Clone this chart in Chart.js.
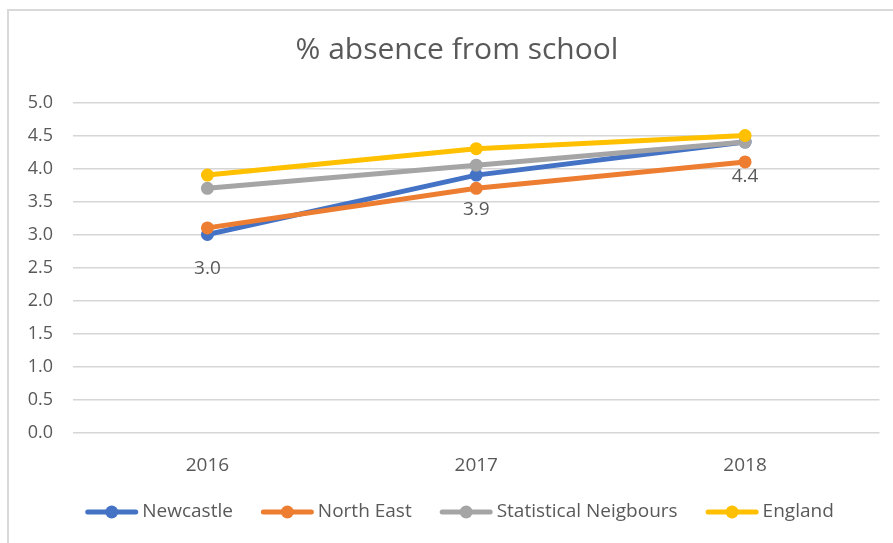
<!DOCTYPE html>
<html>
<head>
<meta charset="utf-8">
<script src="https://cdn.jsdelivr.net/npm/chart.js@4"></script>
<style>
  html, body { margin: 0; padding: 0; background: #fff; overflow: hidden; }
  #wrap { position: relative; width: 893px; height: 543px; overflow: hidden; }
  #frame { position: absolute; left: 7px; top: 9px; width: 900px; height: 600px;
           border: 2px solid #d9d9d9; box-sizing: border-box; pointer-events: none; }
  canvas { position: absolute; left: 0; top: 0; }
</style>
</head>
<body>
<div id="wrap">
  <canvas id="chart" width="893" height="543"></canvas>
  <div id="frame"></div>
</div>
<script>
const chartTitle = '% absence from school';
const categories = ['2016', '2017', '2018'];
const newcastle = [3.0, 3.9, 4.4];
const northEast = [3.1, 3.7, 4.1];
const statisticalNeighbours = [3.7, 4.05, 4.4];
const england = [3.9, 4.3, 4.5];
const seriesNames = ['Newcastle', 'North East', 'Statistical Neigbours', 'England'];

const FONT = "'Open Sans', 'Noto Sans', sans-serif";
const TEXT = '#595959';
const GRID = '#d6d6d6';
const colours = ['#4472C4', '#ED7D31', '#A5A5A5', '#FFC000'];
const seriesValues = [newcastle, northEast, statisticalNeighbours, england];

const datasets = seriesValues.map((vals, i) => ({
  label: seriesNames[i],
  data: vals,
  borderColor: colours[i],
  backgroundColor: colours[i],
  pointBackgroundColor: colours[i],
  pointBorderColor: colours[i],
  borderWidth: 5,
  pointRadius: 6.5,
  pointBorderWidth: 0,
  tension: 0,
  // later series sit on top
  order: seriesValues.length - 1 - i,
  showValues: i === 0
}));

// title, value labels and legend
const decorations = {
  id: 'decorations',
  afterDatasetsDraw(chart) {
    const ctx = chart.ctx;
    ctx.save();
    // value labels under points
    chart.data.datasets.forEach((ds, di) => {
      if (!ds.showValues) return;
      const meta = chart.getDatasetMeta(di);
      ctx.font = `19px ${FONT}`;
      ctx.fillStyle = TEXT;
      ctx.textAlign = 'center';
      ctx.textBaseline = 'middle';
      meta.data.forEach((pt, k) => {
        ctx.fillText(Number(ds.data[k]).toFixed(1), pt.x, pt.y + 34);
      });
    });
    ctx.restore();
  },
  afterDraw(chart) {
    const ctx = chart.ctx;
    ctx.save();
    // title
    ctx.font = `30px ${FONT}`;
    ctx.fillStyle = TEXT;
    ctx.textAlign = 'center';
    ctx.textBaseline = 'middle';
    ctx.fillText(chartTitle, 457, 50);

    // legend
    ctx.font = `19px ${FONT}`;
    const symW = 53, gapText = 4, gapItem = 28;
    const items = chart.data.datasets.map(ds => ({
      ds, w: symW + gapText + ctx.measureText(ds.label).width
    }));
    const total = items.reduce((s, it) => s + it.w, 0) + gapItem * (items.length - 1);
    let x = 459.5 - total / 2;
    const y = 512;
    items.forEach(it => {
      ctx.strokeStyle = it.ds.borderColor;
      ctx.lineWidth = 5;
      ctx.lineCap = 'round';
      ctx.beginPath();
      ctx.moveTo(x + 2.5, y);
      ctx.lineTo(x + symW - 2.5, y);
      ctx.stroke();
      ctx.fillStyle = it.ds.borderColor;
      ctx.beginPath();
      ctx.arc(x + symW / 2, y, 6.5, 0, Math.PI * 2);
      ctx.fill();
      ctx.fillStyle = TEXT;
      ctx.textAlign = 'left';
      ctx.textBaseline = 'middle';
      ctx.fillText(it.ds.label, x + symW + gapText, y);
      x += it.w + gapItem;
    });
    ctx.restore();
  }
};

new Chart(document.getElementById('chart'), {
  type: 'line',
  data: { labels: categories, datasets },
  plugins: [decorations],
  options: {
    responsive: false,
    animation: false,
    events: [],
    layout: { padding: { top: 102.5, left: 20, right: 13.5, bottom: 0 } },
    plugins: { legend: { display: false }, title: { display: false }, tooltip: { enabled: false } },
    scales: {
      x: {
        offset: true,
        grid: { display: false, drawTicks: false },
        border: { display: false },
        ticks: { color: TEXT, font: { family: FONT, size: 19 }, padding: 22 },
        afterFit(scale) { scale.height = 110.5; }
      },
      y: {
        min: 0,
        max: 5,
        grid: { color: GRID, lineWidth: 1.5, drawTicks: false },
        border: { display: false },
        ticks: {
          stepSize: 0.5,
          color: TEXT,
          font: { family: FONT, size: 18 },
          padding: 20,
          callback: v => Number(v).toFixed(1)
        },
        afterFit(scale) { scale.width = 53; }
      }
    }
  }
});
</script>
</body>
</html>
